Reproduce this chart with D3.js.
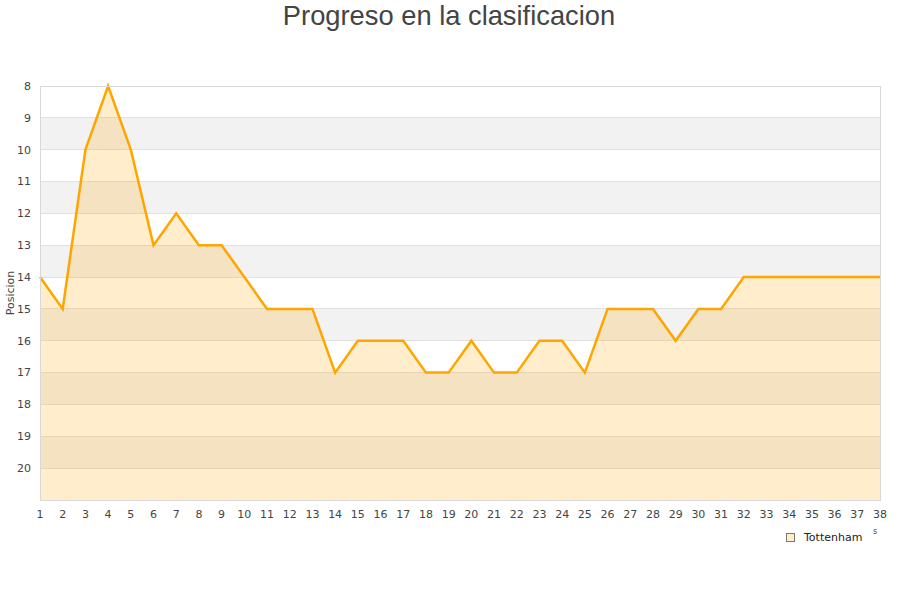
<!DOCTYPE html>
<html><head><meta charset="utf-8">
<script src="https://cdn.jsdelivr.net/npm/d3@7"></script>
<style>body{margin:0;background:#fff;}svg{display:block;font-family:"DejaVu Sans",sans-serif;}</style>
</head><body><svg id="c" width="900" height="600"></svg>
<script>
const jornadas = d3.range(1, 39);
const posiciones = [14,15,10,8,10,13,12,13,13,14,15,15,15,17,16,16,16,17,17,16,17,17,16,16,17,15,15,15,16,15,15,14,14,14,14,14,14,14];
const yTicks = [8,9,10,11,12,13,14,15,16,17,18,19,20];
const equipo = "Tottenham";
const titulo = "Progreso en la clasificacion";

const svg = d3.select("#c");
const L = 40, R = 880, T = 86, B = 500;
const x = d3.scaleLinear().domain([1, 38]).range([L, R]);
const y = d3.scaleLinear().domain([8, 21]).range([T, B]);

// bands
const bands = d3.range(8, 21);
svg.append("g").selectAll("rect").data(bands).join("rect")
  .attr("x", L).attr("width", R - L)
  .attr("y", d => y(d)).attr("height", d => y(d + 1) - y(d))
  .attr("fill", d => (d % 2 === 1) ? "#f2f2f2" : "#ffffff");
// gridlines
svg.append("g").selectAll("line").data(bands.slice(1)).join("line")
  .attr("x1", L).attr("x2", R).attr("y1", d => y(d)).attr("y2", d => y(d))
  .attr("stroke", "#e0e0e0").attr("stroke-width", 1).attr("shape-rendering", "crispEdges");

const data = jornadas.map((j, i) => ({j, p: posiciones[i]}));
svg.append("path").datum(data)
  .attr("d", d3.area().x(d => x(d.j)).y0(y(21)).y1(d => y(d.p)))
  .attr("fill", "#ffa500").attr("fill-opacity", 0.2);
svg.append("path").datum(data)
  .attr("d", d3.line().x(d => x(d.j)).y(d => y(d.p)))
  .attr("fill", "none").attr("stroke", "#ffa500").attr("stroke-width", 2.5).attr("stroke-linejoin", "miter");

// border
svg.append("rect").attr("x", L).attr("y", T).attr("width", R - L).attr("height", B - T)
  .attr("fill", "none").attr("stroke", "#d8d8d8").attr("shape-rendering", "crispEdges");

// y axis labels
svg.append("g").selectAll("text").data(yTicks).join("text")
  .attr("x", 31).attr("y", d => y(d)).attr("dy", "0.35em")
  .attr("text-anchor", "end").attr("font-size", 11).attr("fill", "#444").text(d => d);
// x axis labels
svg.append("g").selectAll("text").data(jornadas).join("text")
  .attr("x", d => x(d)).attr("y", 518).attr("text-anchor", "middle")
  .attr("font-size", 11).attr("fill", "#444").text(d => d);

svg.append("text").attr("transform", "translate(14,293) rotate(-90)")
  .attr("text-anchor", "middle").attr("font-size", 11).attr("fill", "#444").text("Posicion");

svg.append("text").attr("x", 449).attr("y", 25).attr("text-anchor", "middle")
  .attr("font-family", "'Liberation Sans', Arial, sans-serif").attr("font-size", 27.3).attr("fill", "#444").text(titulo);

// stray clipped fragment near axis end
svg.append("text").attr("x", 875).attr("y", 534).attr("text-anchor", "middle")
  .attr("font-size", 8).attr("fill", "#444").text("s");

// legend
svg.append("rect").attr("x", 786.5).attr("y", 533.5).attr("width", 8).attr("height", 8)
  .attr("fill", "#ffedcc").attr("stroke", "#777").attr("stroke-width", 1);
svg.append("text").attr("x", 804).attr("y", 541).attr("font-size", 11).attr("fill", "#222").text(equipo);
</script></body></html>
